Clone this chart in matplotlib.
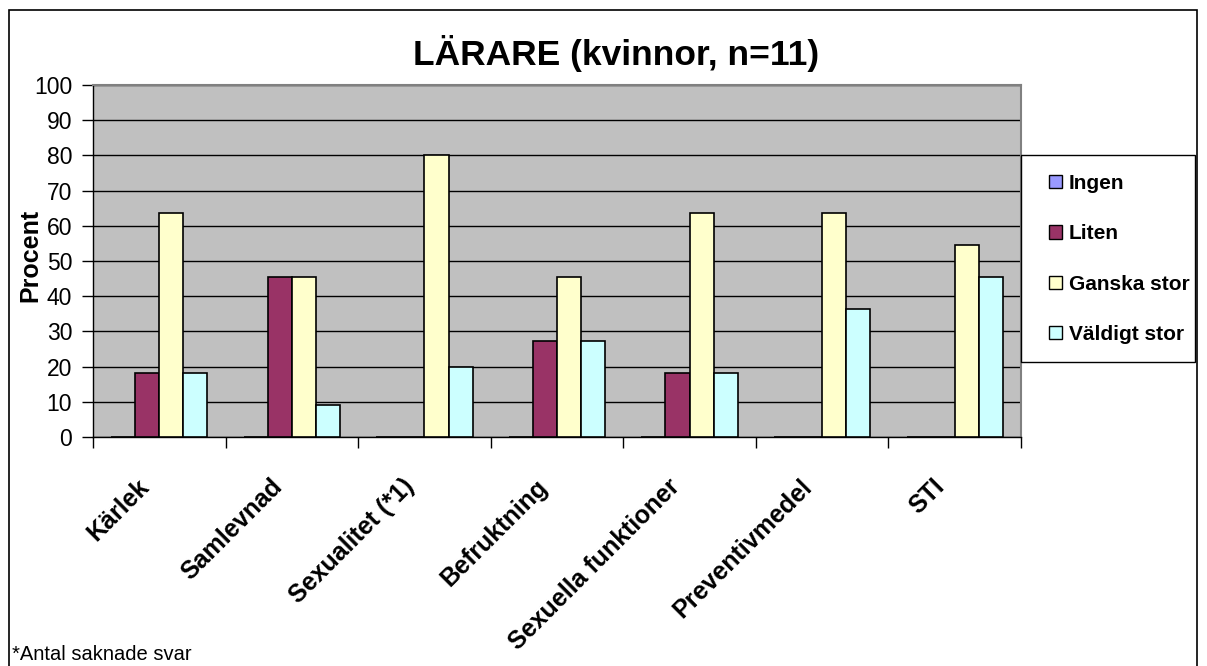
import numpy as np
import matplotlib
matplotlib.use('Agg')
import matplotlib.pyplot as plt
from matplotlib.patches import Rectangle
from matplotlib.legend_handler import HandlerPatch
from matplotlib.transforms import ScaledTranslation

plt.rcParams['font.family'] = ['Liberation Sans', 'DejaVu Sans']

categories = ['Kärlek', 'Samlevnad', 'Sexualitet (*1)', 'Befruktning',
              'Sexuella funktioner', 'Preventivmedel', 'STI']
series_names = ['Ingen', 'Liten', 'Ganska stor', 'Väldigt stor']
ingen = [0, 0, 0, 0, 0, 0, 0]
liten = [18.2, 45.5, 0, 27.3, 18.2, 0, 0]
ganska_stor = [63.6, 45.5, 80.0, 45.5, 63.6, 63.6, 54.5]
valdigt_stor = [18.2, 9.1, 20.0, 27.3, 18.2, 36.4, 45.5]
colors = ['#9999FF', '#993366', '#FFFFCC', '#CCFFFF']

W, H = 1207, 666
fig = plt.figure(figsize=(W / 100, H / 100), dpi=100)
ax = fig.add_axes([93 / W, 1 - 437 / H, (1021 - 93) / W, (437 - 85) / H])
ax.set_facecolor('#C0C0C0')

x = np.arange(len(categories))
w = 1 / 5.5
data = [ingen, liten, ganska_stor, valdigt_stor]
for i, (vals, name, c) in enumerate(zip(data, series_names, colors)):
    ax.bar(x + (i - 1.5) * w, vals, w, color=c, edgecolor='black',
           linewidth=1.2, label=name, zorder=3)

ax.set_xlim(-0.5, len(categories) - 0.5)
ax.set_ylim(0, 100)
ax.set_yticks(range(0, 101, 10))
ax.yaxis.grid(True, color='black', linewidth=1, zorder=1)
ax.set_axisbelow(True)

# tick marks between categories, labels at centers
ax.set_xticks(np.arange(-0.5, len(categories)), minor=False)
ax.set_xticklabels([])
ax.set_xticks(x, minor=True)
ax.set_xticklabels(categories, minor=True, rotation=45, ha='right', va='top',
                   rotation_mode='anchor', fontsize=18, fontweight='bold')
ax.tick_params(axis='x', which='minor', length=0, pad=27)
ax.tick_params(axis='x', which='major', length=8, width=1, direction='out')
ax.tick_params(axis='y', length=8, width=1, labelsize=16.5, pad=7)
shift = ScaledTranslation(-22 / 100, 0, fig.dpi_scale_trans)
for lab in ax.get_xticklabels(minor=True):
    lab.set_transform(lab.get_transform() + shift)

for s in ['top', 'right']:
    ax.spines[s].set_color('#808080')
    ax.spines[s].set_linewidth(1.5)
for s in ['left', 'bottom']:
    ax.spines[s].set_color('black')
    ax.spines[s].set_linewidth(1)

fig.text(30 / W, 1 - 255 / H, 'Procent', rotation=90, ha='center', va='center',
         fontsize=18, fontweight='bold')
fig.text(616 / W, 1 - 54 / H, 'LÄRARE (kvinnor, n=11)', ha='center', va='center',
         fontsize=25.5, fontweight='bold')
fig.text(12 / W, 1 - 655 / H, '*Antal saknade svar', ha='left', va='center',
         fontsize=14.5)


def small_square(legend, orig_handle, xdescent, ydescent, width, height, fontsize):
    size = 12 * 72 / 100
    return Rectangle((-xdescent, -ydescent + (height - size) / 2), size, size)


leg = fig.legend(loc='upper left', bbox_to_anchor=(1049 / W, 1 - 174 / H),
                 frameon=False, prop={'size': 15, 'weight': 'bold'},
                 handlelength=0.6, handleheight=0.6, handletextpad=0.35,
                 labelspacing=1.5, borderpad=0, borderaxespad=0,
                 handler_map={Rectangle: HandlerPatch(patch_func=small_square)})
for hnd in leg.legend_handles:
    hnd.set_linewidth(1)

# legend frame
fig.patches.append(Rectangle((1021 / W, 1 - 362 / H), (1195 - 1021) / W,
                             (362 - 155) / H, transform=fig.transFigure,
                             facecolor='white', edgecolor='black', linewidth=1,
                             zorder=0))

fig.patches.append(Rectangle((9 / W, -0.1), (1197 - 9) / W, 1.1 - 10 / H,
                             transform=fig.transFigure, fill=False,
                             edgecolor='black', linewidth=1.2))

fig.savefig('out.png', dpi=100)
